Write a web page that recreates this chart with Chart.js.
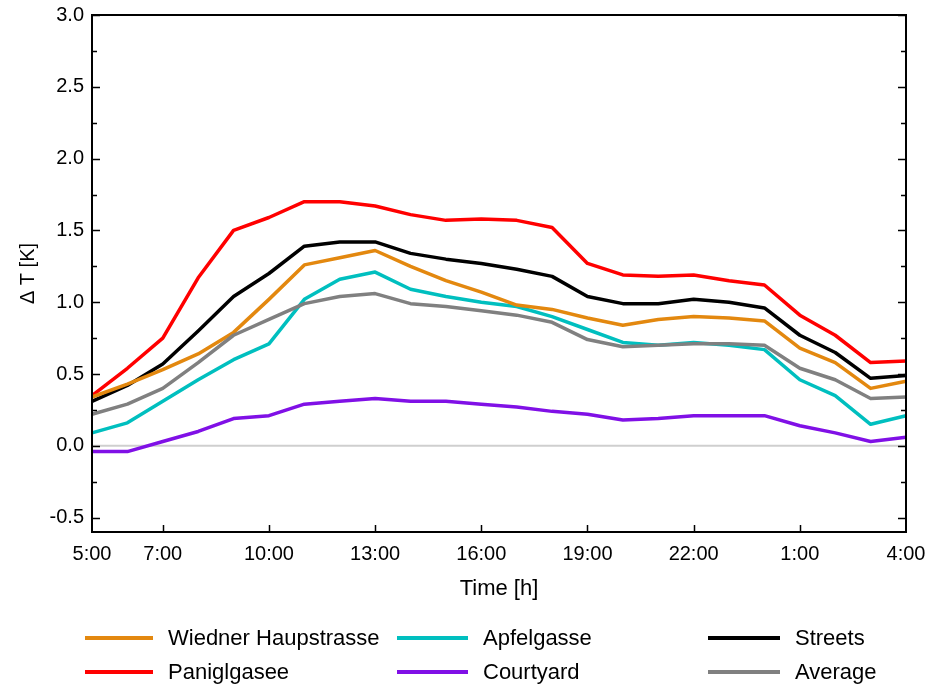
<!DOCTYPE html>
<html>
<head>
<meta charset="utf-8">
<script src="https://cdn.jsdelivr.net/npm/chart.js@4.4.0/dist/chart.umd.min.js"></script>
<style>
  html, body { margin: 0; padding: 0; background: #fff; }
  #wrap { position: relative; width: 932px; height: 686px; }
  #legend { position: absolute; left: 0; top: 0; width: 932px; height: 686px; pointer-events: none;
    font-family: "Liberation Sans", Arial, sans-serif; font-size: 22px; color: #000; }
  .item { position: absolute; height: 26px; display: flex; align-items: center; white-space: nowrap; }
  .swatch { display: inline-block; height: 4px; margin-right: 15px; }
</style>
</head>
<body>
<div id="wrap">
  <canvas id="tempChart" width="932" height="686"></canvas>
  <div id="legend"></div>
</div>
<script>
const hours = ["5:00", "6:00", "7:00", "8:00", "9:00", "10:00", "11:00", "12:00", "13:00", "14:00", "15:00", "16:00",
    "17:00", "18:00", "19:00", "20:00", "21:00", "22:00", "23:00", "0:00", "1:00", "2:00", "3:00", "4:00"];
const xTickLabels = ["5:00", "7:00", "10:00", "13:00", "16:00", "19:00", "22:00", "1:00", "4:00"];
const yTickValues = [-0.5, 0, 0.5, 1.0, 1.5, 2.0, 2.5, 3.0];

const wiedner = [0.34, 0.43, 0.53, 0.64, 0.79, 1.02, 1.26, 1.31, 1.36, 1.25, 1.15, 1.07,
    0.98, 0.95, 0.89, 0.84, 0.88, 0.90, 0.89, 0.87, 0.68, 0.58, 0.40, 0.45];
const paniglgasee = [0.35, 0.54, 0.75, 1.17, 1.50, 1.59, 1.70, 1.70, 1.67, 1.61, 1.57, 1.58,
    1.57, 1.52, 1.27, 1.19, 1.18, 1.19, 1.15, 1.12, 0.91, 0.77, 0.58, 0.59];
const apfelgasse = [0.09, 0.16, 0.31, 0.46, 0.60, 0.71, 1.02, 1.16, 1.21, 1.09, 1.04, 1.00,
    0.97, 0.90, 0.81, 0.72, 0.70, 0.72, 0.70, 0.67, 0.46, 0.35, 0.15, 0.21];
const courtyard = [-0.04, -0.04, 0.03, 0.10, 0.19, 0.21, 0.29, 0.31, 0.33, 0.31, 0.31, 0.29,
    0.27, 0.24, 0.22, 0.18, 0.19, 0.21, 0.21, 0.21, 0.14, 0.09, 0.03, 0.06];
const streets = [0.31, 0.42, 0.57, 0.80, 1.04, 1.20, 1.39, 1.42, 1.42, 1.34, 1.30, 1.27,
    1.23, 1.18, 1.04, 0.99, 0.99, 1.02, 1.00, 0.96, 0.77, 0.65, 0.47, 0.49];
const average = [0.22, 0.29, 0.40, 0.58, 0.77, 0.88, 0.99, 1.04, 1.06, 0.99, 0.97, 0.94,
    0.91, 0.86, 0.74, 0.69, 0.70, 0.71, 0.71, 0.70, 0.54, 0.46, 0.33, 0.34];

const FONT = "'Liberation Sans', Arial, sans-serif";
Chart.defaults.color = "#000";
Chart.defaults.font.family = FONT;

const series = [
    { label: "Wiedner Haupstrasse", data: wiedner, color: "#e3880f", col: 0, row: 0 },
    { label: "Paniglgasee", data: paniglgasee, color: "#ff0000", col: 0, row: 1 },
    { label: "Apfelgasse", data: apfelgasse, color: "#00bfbf", col: 1, row: 0 },
    { label: "Courtyard", data: courtyard, color: "#8010e6", col: 1, row: 1 },
    { label: "Streets", data: streets, color: "#000000", col: 2, row: 0 },
    { label: "Average", data: average, color: "#808080", col: 2, row: 1 }
];

// frame, inward ticks and the zero line
const framePlugin = {
    id: "frame",
    beforeDatasetsDraw(chart) {
        const { ctx, chartArea: a, scales: { y } } = chart;
        const y0 = y.getPixelForValue(0);
        ctx.save();
        ctx.strokeStyle = "#cfcfcf";
        ctx.lineWidth = 2;
        ctx.beginPath();
        ctx.moveTo(a.left, y0);
        ctx.lineTo(a.right, y0);
        ctx.stroke();
        ctx.restore();
    },
    afterDatasetsDraw(chart) {
        const { ctx, chartArea: a, scales: { x, y } } = chart;
        ctx.save();
        ctx.strokeStyle = "#000";
        ctx.lineWidth = 2;
        ctx.strokeRect(a.left, a.top, a.right - a.left, a.bottom - a.top);
        ctx.lineWidth = 1.5;
        ctx.beginPath();
        for (let v = -0.5; v <= 3.0001; v += 0.25) {
            const py = Math.round(y.getPixelForValue(v)) + 0.5;
            const len = Math.abs(v * 2 - Math.round(v * 2)) < 1e-6 ? 8 : 5;
            ctx.moveTo(a.left, py);
            ctx.lineTo(a.left + len, py);
            ctx.moveTo(a.right, py);
            ctx.lineTo(a.right - len, py);
        }
        xTickLabels.slice(1, -1).forEach(l => {
            const px = Math.round(x.getPixelForValue(hours.indexOf(l))) + 0.5;
            ctx.moveTo(px, a.bottom);
            ctx.lineTo(px, a.bottom - 7);
        });
        ctx.stroke();
        ctx.restore();
    }
};

const ctx = document.getElementById("tempChart").getContext("2d");
new Chart(ctx, {
    type: "line",
    data: {
        labels: hours,
        datasets: series.map((s, i) => ({
            label: s.label,
            data: s.data,
            borderColor: s.color,
            backgroundColor: s.color,
            borderWidth: 3.5,
            borderJoinStyle: "round",
            pointRadius: 0,
            tension: 0,
            order: s.label === "Average" ? 0 : i + 1
        }))
    },
    options: {
        responsive: false,
        animation: false,
        layout: { padding: { left: 0, right: 26, top: 15, bottom: 84 } },
        plugins: {
            legend: { display: false },
            tooltip: { enabled: false }
        },
        scales: {
            x: {
                type: "category",
                offset: false,
                grid: { display: false, drawTicks: false },
                border: { display: false },
                ticks: {
                    autoSkip: false,
                    maxRotation: 0,
                    padding: 10,
                    font: { size: 20 },
                    callback: function (v) {
                        const l = this.getLabelForValue(v);
                        return xTickLabels.includes(l) ? l : "";
                    }
                },
                title: {
                    display: true,
                    text: "Time [h]",
                    font: { size: 22 },
                    padding: { top: 6, bottom: 0 }
                },
                afterFit(s) {
                    s.height = 70;
                    s.paddingLeft = 0;
                    s.paddingRight = 0;
                }
            },
            y: {
                min: -0.6,
                max: 3.0,
                afterBuildTicks(s) { s.ticks = yTickValues.map(v => ({ value: v })); },
                grid: { display: false, drawTicks: false },
                border: { display: false },
                ticks: {
                    padding: 8,
                    font: { size: 20 },
                    callback: v => v.toFixed(1)
                },
                title: {
                    display: true,
                    text: "\u0394 T [K]",
                    font: { size: 20 },
                    padding: { top: 16, bottom: 0 }
                },
                afterFit(s) {
                    s.width = 92;
                    s.paddingTop = 0;
                    s.paddingBottom = 0;
                }
            }
        }
    },
    plugins: [framePlugin]
});

// legend laid out in three columns, two rows
const colX = [[85, 68], [397, 71], [708, 72]];
const rowY = [638, 672];
const legend = document.getElementById("legend");
series.forEach(s => {
    const item = document.createElement("div");
    item.className = "item";
    item.style.left = colX[s.col][0] + "px";
    item.style.top = (rowY[s.row] - 13) + "px";
    const sw = document.createElement("span");
    sw.className = "swatch";
    sw.style.width = colX[s.col][1] + "px";
    sw.style.background = s.color;
    const txt = document.createElement("span");
    txt.textContent = s.label;
    item.appendChild(sw);
    item.appendChild(txt);
    legend.appendChild(item);
});
</script>
</body>
</html>
